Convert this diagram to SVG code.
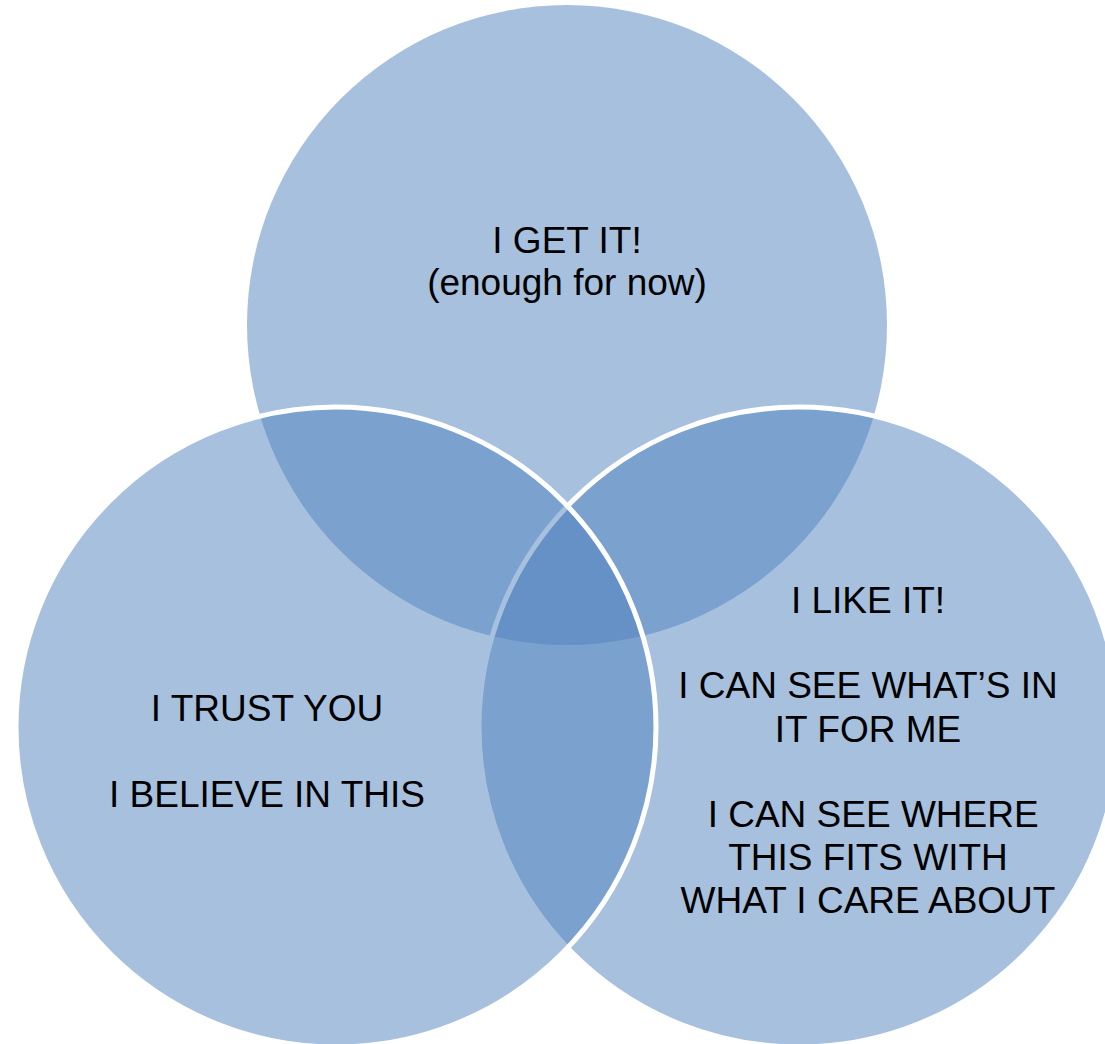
<svg xmlns="http://www.w3.org/2000/svg" width="1105" height="1044" viewBox="0 0 1105 1044">
<style>
.c{fill:#4F81BD;fill-opacity:0.5}
.s{stroke:#FFFFFF;stroke-width:5}
.t{font-family:"Liberation Sans",Arial,sans-serif;font-size:37px;fill:#000000;text-anchor:middle}
</style>
<rect width="1105" height="1044" fill="#FFFFFF"/>
<g id="node-top">
<circle class="c" cx="567" cy="325" r="320"/>
<text class="t"><tspan x="567" y="253">I GET IT!</tspan><tspan x="567" y="295">(enough for now)</tspan></text>
</g>
<g id="node-right">
<circle class="c s" cx="799" cy="727" r="320"/>
<text class="t" xml:space="preserve"><tspan x="868" y="613">I LIKE IT!</tspan><tspan x="868" y="698">I CAN SEE WHAT’S IN</tspan><tspan x="868" y="742">IT FOR ME</tspan><tspan x="868" y="827"> I CAN SEE WHERE</tspan><tspan x="868" y="870">THIS FITS WITH</tspan><tspan x="868" y="913">WHAT I CARE ABOUT</tspan></text>
</g>
<g id="node-left">
<circle class="c s" cx="336" cy="727" r="320"/>
<text class="t"><tspan x="267" y="721">I TRUST YOU</tspan><tspan x="267" y="807">I BELIEVE IN THIS</tspan></text>
</g>
<g id="connectors"/>
</svg>
